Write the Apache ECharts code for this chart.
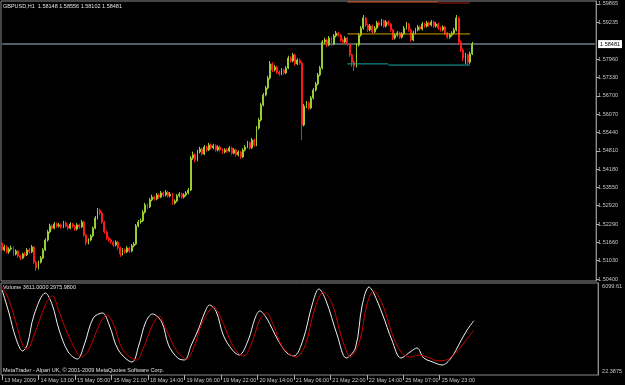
<!DOCTYPE html>
<html><head><meta charset="utf-8">
<script src="https://cdn.jsdelivr.net/npm/echarts@6/dist/echarts.min.js"></script>
<style>html,body{margin:0;padding:0;background:#000;}#c{width:625px;height:385px;}</style>
</head><body><div id="c"></div>
<script>
// ---- data ----
const timeLabels = ['13 May 2009','14 May 13:00','15 May 05:00','15 May 21:00','18 May 14:00','19 May 06:00','19 May 22:00','20 May 14:00','21 May 06:00','21 May 22:00','22 May 14:00','25 May 07:00','25 May 23:00'];
const priceTicks = [1.59865,1.59235,1.57960,1.57330,1.56700,1.56070,1.55440,1.54810,1.54180,1.53550,1.52920,1.52290,1.51660,1.51030,1.50400];
const volTicks = [6099.61, 22.3875];
const firstOpen = 1.5164;
const closes = [1.5140,1.5150,1.5133,1.5143,1.5147,1.5126,1.5136,1.5119,1.5112,1.5126,1.5123,1.5140,1.5133,1.5150,1.5098,1.5078,1.5098,1.5112,1.5140,1.5174,
1.5202,1.5222,1.5215,1.5229,1.5222,1.5226,1.5219,1.5233,1.5222,1.5215,1.5229,1.5222,1.5212,1.5226,1.5219,1.5236,1.5191,1.5164,1.5174,1.5188,
1.5215,1.5250,1.5277,1.5267,1.5236,1.5202,1.5181,1.5174,1.5167,1.5157,1.5167,1.5147,1.5126,1.5140,1.5133,1.5147,1.5136,1.5154,1.5160,1.5222,
1.5236,1.5240,1.5270,1.5295,1.5288,1.5312,1.5322,1.5315,1.5329,1.5322,1.5336,1.5329,1.5339,1.5326,1.5332,1.5301,1.5308,1.5326,1.5332,1.5322,
1.5329,1.5336,1.5346,1.5456,1.5467,1.5449,1.5477,1.5487,1.5470,1.5494,1.5484,1.5501,1.5491,1.5498,1.5484,1.5494,1.5484,1.5477,1.5484,1.5480,
1.5491,1.5473,1.5484,1.5467,1.5477,1.5460,1.5484,1.5494,1.5508,1.5491,1.5518,1.5501,1.5559,1.5587,1.5639,1.5673,1.5697,1.5731,1.5780,1.5759,
1.5769,1.5752,1.5745,1.5759,1.5749,1.5766,1.5800,1.5790,1.5811,1.5780,1.5793,1.5783,1.5570,1.5635,1.5645,1.5628,1.5663,1.5690,1.5711,1.5742,
1.5766,1.5855,1.5862,1.5845,1.5869,1.5848,1.5876,1.5886,1.5879,1.5862,1.5855,1.5869,1.5848,1.5811,1.5786,1.5773,1.5845,1.5879,1.5903,1.5938,
1.5914,1.5897,1.5910,1.5890,1.5903,1.5921,1.5914,1.5928,1.5910,1.5924,1.5917,1.5897,1.5869,1.5879,1.5886,1.5872,1.5883,1.5903,1.5917,1.5897,
1.5862,1.5886,1.5897,1.5907,1.5900,1.5917,1.5910,1.5921,1.5914,1.5924,1.5910,1.5917,1.5903,1.5897,1.5907,1.5886,1.5872,1.5879,1.5886,1.5897,
1.5938,1.5855,1.5828,1.5800,1.5811,1.5786,1.58148,1.58481];
const highs = [1.5170,1.5158,1.5156,1.5149,1.5155,1.5152,1.5142,1.5140,1.5124,1.5131,1.5133,1.5146,1.5147,1.5157,1.5154,1.5104,1.5103,1.5119,1.5146,1.5180,
1.5209,1.5230,1.5228,1.5236,1.5234,1.5233,1.5231,1.5240,1.5238,1.5227,1.5235,1.5233,1.5226,1.5232,1.5230,1.5243,1.5240,1.5196,1.5180,1.5194,
1.5220,1.5257,1.5284,1.5282,1.5272,1.5240,1.5207,1.5186,1.5179,1.5172,1.5173,1.5171,1.5151,1.5146,1.5145,1.5153,1.5151,1.5160,1.5167,1.5229,
1.5243,1.5248,1.5277,1.5302,1.5300,1.5319,1.5330,1.5327,1.5336,1.5334,1.5343,1.5341,1.5346,1.5344,1.5339,1.5336,1.5314,1.5332,1.5339,1.5337,
1.5335,1.5342,1.5353,1.5463,1.5478,1.5473,1.5484,1.5495,1.5492,1.5501,1.5499,1.5508,1.5506,1.5505,1.5503,1.5500,1.5499,1.5489,1.5490,1.5490,
1.5497,1.5495,1.5490,1.5488,1.5483,1.5481,1.5490,1.5501,1.5515,1.5512,1.5525,1.5522,1.5566,1.5594,1.5646,1.5680,1.5704,1.5739,1.5790,1.5786,
1.5776,1.5774,1.5758,1.5765,1.5763,1.5772,1.5808,1.5806,1.5818,1.5815,1.5799,1.5798,1.5788,1.5642,1.5652,1.5650,1.5670,1.5697,1.5718,1.5749,
1.5773,1.5862,1.5870,1.5867,1.5876,1.5873,1.5883,1.5893,1.5891,1.5884,1.5867,1.5875,1.5873,1.5852,1.5815,1.5792,1.5852,1.5886,1.5910,1.5948,
1.5942,1.5919,1.5917,1.5915,1.5910,1.5928,1.5926,1.5935,1.5932,1.5931,1.5929,1.5921,1.5901,1.5885,1.5893,1.5891,1.5889,1.5910,1.5924,1.5921,
1.5901,1.5893,1.5904,1.5914,1.5912,1.5924,1.5922,1.5928,1.5926,1.5931,1.5929,1.5924,1.5921,1.5908,1.5913,1.5911,1.5890,1.5885,1.5892,1.5904,
1.5948,1.5942,1.5860,1.5833,1.5818,1.5815,1.5822,1.58556];
const lows = [1.5132,1.5135,1.5128,1.5127,1.5138,1.5120,1.5121,1.5113,1.5105,1.5108,1.5116,1.5119,1.5127,1.5129,1.5092,1.5068,1.5073,1.5093,1.5108,1.5136,
1.5169,1.5197,1.5209,1.5211,1.5216,1.5217,1.5213,1.5215,1.5217,1.5208,1.5211,1.5216,1.5205,1.5207,1.5213,1.5215,1.5185,1.5157,1.5159,1.5170,
1.5184,1.5211,1.5245,1.5260,1.5230,1.5196,1.5175,1.5168,1.5161,1.5150,1.5152,1.5141,1.5116,1.5121,1.5127,1.5129,1.5130,1.5132,1.5149,1.5156,
1.5218,1.5230,1.5236,1.5265,1.5281,1.5284,1.5307,1.5309,1.5311,1.5316,1.5318,1.5322,1.5324,1.5320,1.5321,1.5295,1.5296,1.5304,1.5321,1.5316,
1.5317,1.5324,1.5331,1.5342,1.5450,1.5442,1.5445,1.5472,1.5464,1.5466,1.5478,1.5480,1.5485,1.5486,1.5478,1.5479,1.5478,1.5471,1.5472,1.5474,
1.5476,1.5467,1.5469,1.5461,1.5462,1.5453,1.5456,1.5479,1.5490,1.5485,1.5487,1.5495,1.5497,1.5554,1.5582,1.5634,1.5668,1.5692,1.5726,1.5752,
1.5754,1.5746,1.5739,1.5741,1.5743,1.5745,1.5762,1.5784,1.5786,1.5774,1.5776,1.5777,1.5518,1.5565,1.5628,1.5621,1.5624,1.5658,1.5685,1.5706,
1.5737,1.5761,1.5848,1.5838,1.5841,1.5842,1.5844,1.5871,1.5873,1.5856,1.5849,1.5851,1.5842,1.5804,1.5770,1.5755,1.5768,1.5840,1.5874,1.5898,
1.5907,1.5890,1.5892,1.5884,1.5886,1.5898,1.5908,1.5910,1.5904,1.5905,1.5911,1.5891,1.5862,1.5864,1.5874,1.5866,1.5867,1.5879,1.5898,1.5891,
1.5856,1.5858,1.5881,1.5892,1.5894,1.5895,1.5904,1.5905,1.5908,1.5909,1.5904,1.5905,1.5897,1.5891,1.5892,1.5880,1.5866,1.5867,1.5874,1.5881,
1.5892,1.5849,1.5821,1.5790,1.5780,1.5776,1.5780,1.58102];
// volume indicator: [bar index, value]
const volFast = [[0,5637],[3,4118],[6,2467],[9,1608],[11,2004],[14,3986],[19,5439],[22,4646],[25,2995],[29,1542],[33,1079],[36,2004],[40,3788],[44,4118],[47,3325],[51,1674],[57,881],[60,2004],[63,3524],[66,4052],[70,3524],[73,2004],[77,1145],[80,1013],[83,2004],[86,2995],[89,4184],[91,4646],[94,4184],[97,2665],[101,1674],[104,1344],[108,2334],[111,3788],[113,4250],[116,3788],[121,2334],[125,1476],[128,1277],[132,2334],[136,4646],[139,5703],[142,4977],[147,2665],[151,1145],[155,1806],[158,4646],[161,5836],[163,5439],[167,3986],[171,2334],[175,1145],[179,1542],[182,1806],[185,1145],[189,881],[193,683],[197,1145],[201,2202],[204,2995],[207,3611]];
const volSlow = [[0,5836],[3,4977],[6,3524],[9,2004],[11,1740],[14,2665],[19,4646],[22,5241],[25,4184],[30,2334],[35,1211],[38,1674],[43,3458],[46,3986],[49,3325],[53,1674],[59,1013],[62,1806],[66,3325],[69,3920],[72,2995],[77,1542],[81,1079],[84,1806],[88,3524],[93,4514],[96,3788],[100,2334],[103,1542],[106,1277],[110,2334],[113,3656],[116,4118],[119,3325],[123,1872],[129,1211],[133,2004],[137,4316],[141,5505],[145,4646],[149,2467],[153,1211],[157,2334],[160,4646],[163,5571],[167,4646],[171,2797],[175,1542],[179,1211],[183,1340],[187,1180],[191,960],[195,1020],[199,1480],[202,2010],[205,2600],[207,2976]];
// drawn horizontal objects: price, from bar, to bar
const levelPrices = [1.59929, 1.59894, 1.58830, 1.57800, 1.57760];
const levelFrom = [152, 192, 152, 152, 170];
const levelTo = [192, 206, 206, 170, 206];
const currentPrice = 1.58481;
const titleText = 'GBPUSD,H1  1.58148 1.58556 1.58102 1.58481';
const volText = 'Volume 3611.0000 2975.9800';
const copyText = 'MetaTrader - Alpari UK, \u00A9 2001-2009 MetaQuotes Software Corp.';

// ---- build ----
const SLOTS = 262, STEP = 16;
const categories = [];
for (let i = 0; i < SLOTS; i++) {
  const k = i / STEP;
  categories.push(i % STEP === 0 && k < timeLabels.length ? timeLabels[k] : 'b' + i);
}
const isLabel = (i) => i % STEP === 0 && i / STEP < timeLabels.length;
const opens = [firstOpen].concat(closes.slice(0, -1));
const candles = closes.map((c, i) => [opens[i], c, lows[i], highs[i]]);

const levelColors = ['#e85a20', '#a81c10', '#d0a000', '#12a8a8', '#12a8a8'];
const levelSeries = levelPrices.map((p, k) => ({
  type: 'line', xAxisIndex: 0, yAxisIndex: 0, symbol: 'none', silent: true, z: 3,
  data: [[levelFrom[k], p], [levelTo[k], p]],
  lineStyle: { color: levelColors[k], width: 1 }
}));

const FONT = 'Liberation Sans';
const txt = { color: '#c8c8c8', fontSize: 5.5, fontFamily: FONT };
const isCur = (v) => Math.abs(v - currentPrice) < 1e-7;

const chart = echarts.init(document.getElementById('c'), null, { renderer: 'canvas' });
chart.setOption({
  backgroundColor: '#000000',
  animation: false,
  grid: [
    { left: 1, top: 1, width: 602, height: 280, show: true, borderColor: '#8c8c8c', borderWidth: 1, backgroundColor: '#000' },
    { left: 1, top: 283, width: 602, height: 92, show: true, borderColor: '#8c8c8c', borderWidth: 1, backgroundColor: '#000' }
  ],
  xAxis: [
    { type: 'category', gridIndex: 0, data: categories, boundaryGap: true,
      axisLine: { show: false }, axisTick: { show: false }, axisLabel: { show: false }, splitLine: { show: false } },
    { type: 'category', gridIndex: 1, data: categories, boundaryGap: true,
      axisLine: { show: false },
      axisTick: { show: true, alignWithLabel: true, interval: (i) => isLabel(i), length: 5, lineStyle: { color: '#b0b0b0' } },
      axisLabel: { show: true, interval: (i) => isLabel(i), align: 'left', margin: 2, padding: [0, 0, 0, 2],
        formatter: (v) => (v.charAt(0) === 'b' ? '' : v), ...txt },
      splitLine: { show: false } }
  ],
  yAxis: [
    { type: 'value', gridIndex: 0, position: 'right', min: 1.503312, max: 1.599632,
      axisLine: { show: true, lineStyle: { color: '#8c8c8c' } },
      axisTick: { show: true, length: 3, inside: false, customValues: priceTicks, lineStyle: { color: '#b0b0b0' } },
      axisLabel: { show: true, margin: 2, customValues: priceTicks.concat([currentPrice]),
        formatter: (v) => (isCur(v) ? '{c|' + v.toFixed(5) + '}' : v.toFixed(5)),
        rich: { c: { backgroundColor: '#ffffff', color: '#000000', fontSize: 5.5, fontFamily: FONT, padding: [1, 2, 1, 2] } },
        ...txt },
      splitLine: { show: false } },
    { type: 'value', gridIndex: 1, position: 'right', min: 22.3875, max: 6099.61,
      axisLine: { show: true, lineStyle: { color: '#8c8c8c' } },
      axisTick: { show: false },
      axisLabel: { show: true, margin: 4, customValues: volTicks,
        formatter: (v) => (v > 3000 ? '{t|' + v.toFixed(2) + '}' : '{b|' + v.toFixed(4) + '}'),
        rich: { t: { padding: [6, 0, 0, 0], ...txt }, b: { padding: [0, 0, 8, 0], ...txt } }, ...txt },
      splitLine: { show: false } }
  ],
  title: { text: titleText, left: 3, top: 3, padding: 0, textStyle: { color: '#e0e0e0', fontSize: 5.5, fontWeight: 'normal', fontFamily: FONT } },
  graphic: [
    { type: 'text', left: 3, top: 284, style: { text: volText, fill: '#e0e0e0', fontSize: 5.5, fontFamily: FONT } },
    { type: 'text', left: 3, top: 367, style: { text: copyText, fill: '#e0e0e0', fontSize: 5.5, fontFamily: FONT } }
  ],
  series: [
    { type: 'line', xAxisIndex: 0, yAxisIndex: 0, symbol: 'none', silent: true, z: 1,
      data: [[0, currentPrice], [SLOTS - 1, currentPrice]],
      lineStyle: { color: '#525c66', width: 2 } },
    { type: 'candlestick', xAxisIndex: 0, yAxisIndex: 0, data: candles, barWidth: 1.4, z: 2,
      itemStyle: { color: '#9acd32', color0: '#ff1a1a', borderColor: '#9acd32', borderColor0: '#ff1a1a', borderWidth: 1 } },
    ...levelSeries,
    { type: 'line', xAxisIndex: 1, yAxisIndex: 1, data: volFast, smooth: 0.35, symbol: 'none', silent: true,
      lineStyle: { color: '#f0f0f0', width: 1 } },
    { type: 'line', xAxisIndex: 1, yAxisIndex: 1, data: volSlow, smooth: 0.35, symbol: 'none', silent: true,
      lineStyle: { color: '#c80000', width: 1 } }
  ]
});
</script>
</body></html>
